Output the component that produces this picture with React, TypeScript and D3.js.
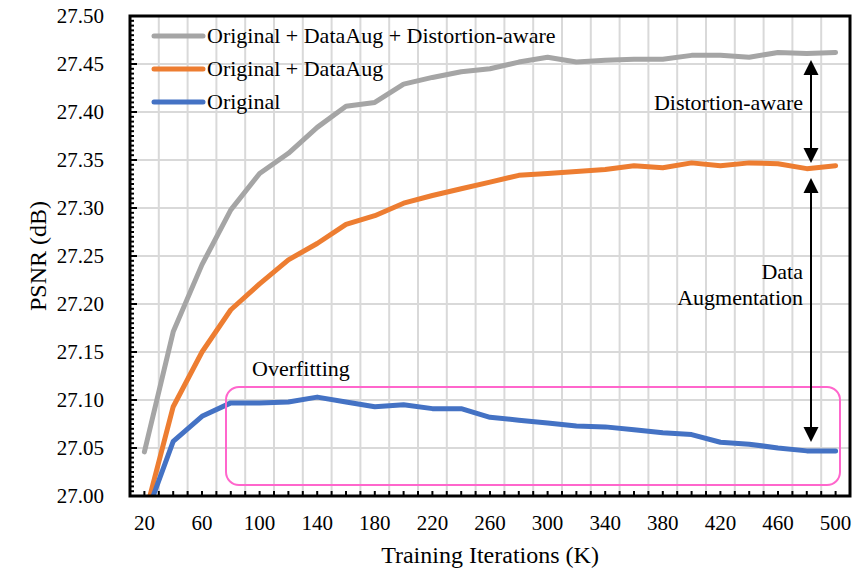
import React from "react";
import { scaleLinear, line, range } from "d3";

// iterations (K) sampled every 20K
const iterations = [20, 40, 60, 80, 100, 120, 140, 160, 180, 200, 220, 240, 260, 280, 300, 320, 340, 360, 380, 400, 420, 440, 460, 480, 500];

const distortionAware = [27.046, 27.171, 27.241, 27.298, 27.336, 27.357, 27.384, 27.406, 27.41, 27.429, 27.436, 27.442, 27.445, 27.452, 27.457, 27.452, 27.454, 27.455, 27.455, 27.459, 27.459, 27.457, 27.462, 27.461, 27.462];
const dataAug = [26.978, 27.093, 27.15, 27.194, 27.221, 27.246, 27.263, 27.283, 27.292, 27.305, 27.313, 27.32, 27.327, 27.334, 27.336, 27.338, 27.34, 27.344, 27.342, 27.347, 27.344, 27.347, 27.346, 27.341, 27.344];
const original = [26.975, 27.057, 27.083, 27.097, 27.097, 27.098, 27.103, 27.098, 27.093, 27.095, 27.091, 27.091, 27.082, 27.079, 27.076, 27.073, 27.072, 27.069, 27.066, 27.064, 27.056, 27.054, 27.05, 27.047, 27.047];

const seriesNames = ["Original + DataAug + Distortion-aware", "Original + DataAug", "Original"];
const seriesColors = ["#a5a5a5", "#ed7d31", "#4472c4"];

const xTickLabels = [20, 60, 100, 140, 180, 220, 260, 300, 340, 380, 420, 460, 500];
const yTickLabels = [27.0, 27.05, 27.1, 27.15, 27.2, 27.25, 27.3, 27.35, 27.4, 27.45, 27.5];

const FONT = "'Liberation Serif', 'Times New Roman', serif";

const left = 130, right = 850, top = 16, bottom = 496;

export default function App() {
  const x = scaleLinear().domain([10, 510]).range([left, right]);
  const y = scaleLinear().domain([27.0, 27.5]).range([bottom, top]);

  const series = [distortionAware, dataAug, original];
  const path = line<number>()
    .x((_, i) => x(iterations[i]))
    .y((d) => y(d));

  const vGrid = range(10, 511, 20);
  const xMinor = range(10, 511, 10);
  const yMinor = range(0, 101).map((k) => 27.0 + k * 0.005);

  const arrowX = 811;
  const head = (tipY: number, dir: number) =>
    `M${arrowX},${tipY} L${arrowX - 7.5},${tipY + dir * 15} L${arrowX + 7.5},${tipY + dir * 15} Z`;

  return (
    <svg width={858} height={572} style={{ position: "absolute", left: 0, top: 0, background: "#fff" }} fontFamily={FONT}>
      <defs>
        <clipPath id="plot">
          <rect x={left} y={top} width={right - left} height={bottom - top} />
        </clipPath>
      </defs>

      {/* gridlines */}
      {vGrid.map((v) => (
        <line key={"vg" + v} x1={x(v)} x2={x(v)} y1={top} y2={bottom} stroke="#d9d9d9" strokeWidth={2} />
      ))}
      {yTickLabels.map((v) => (
        <line key={"hg" + v} x1={left} x2={right} y1={y(v)} y2={y(v)} stroke="#d9d9d9" strokeWidth={2} />
      ))}

      {/* series */}
      <g clipPath="url(#plot)">
        {series.map((s, i) => (
          <path key={i} d={path(s) || ""} fill="none" stroke={seriesColors[i]} strokeWidth={5}
            strokeLinejoin="round" strokeLinecap="round" />
        ))}
      </g>

      {/* axis ticks (inside) */}
      {yMinor.map((v, k) => (
        <line key={"yt" + k} x1={left} x2={left + (k % 10 === 0 ? 7 : 4)} y1={y(v)} y2={y(v)} stroke="#000" strokeWidth={2} />
      ))}
      {xMinor.map((v) => (
        <line key={"xt" + v} x1={x(v)} x2={x(v)} y1={bottom} y2={bottom - 5} stroke="#000" strokeWidth={2} />
      ))}

      {/* plot border */}
      <rect x={left} y={top} width={right - left} height={bottom - top} fill="none" stroke="#000" strokeWidth={3} />

      {/* tick labels */}
      {yTickLabels.map((v) => (
        <text key={"yl" + v} x={104} y={y(v)} dy="0.35em" textAnchor="end" fontSize={21}>{v.toFixed(2)}</text>
      ))}
      {xTickLabels.map((v) => (
        <text key={"xl" + v} x={x(v)} y={530} textAnchor="middle" fontSize={21}>{v}</text>
      ))}

      {/* axis titles */}
      <text x={490} y={563} textAnchor="middle" fontSize={24}>Training Iterations (K)</text>
      <text transform={`translate(46,256) rotate(-90)`} textAnchor="middle" fontSize={24}>PSNR (dB)</text>

      {/* legend */}
      {seriesNames.map((n, i) => (
        <g key={n}>
          <line x1={154} x2={203} y1={36 + i * 33} y2={36 + i * 33} stroke={seriesColors[i]} strokeWidth={5} strokeLinecap="round" />
          <text x={207} y={36 + i * 33} dy="0.33em" fontSize={22}>{n}</text>
        </g>
      ))}

      {/* overfitting box */}
      <rect x={226} y={387} width={614} height={98} rx={13} fill="none" stroke="#ff66cc" strokeWidth={2} />
      <text x={252} y={376} fontSize={22}>Overfitting</text>

      {/* arrows */}
      <line x1={arrowX} x2={arrowX} y1={70} y2={153} stroke="#000" strokeWidth={2} />
      <path d={head(60, 1)} fill="#000" />
      <path d={head(163, -1)} fill="#000" />
      <line x1={arrowX} x2={arrowX} y1={188} y2={432} stroke="#000" strokeWidth={2} />
      <path d={head(178, 1)} fill="#000" />
      <path d={head(442, -1)} fill="#000" />

      <text x={803} y={110} textAnchor="end" fontSize={22}>Distortion-aware</text>
      <text x={803} y={279} textAnchor="end" fontSize={22}>Data</text>
      <text x={803} y={305} textAnchor="end" fontSize={22}>Augmentation</text>
    </svg>
  );
}
